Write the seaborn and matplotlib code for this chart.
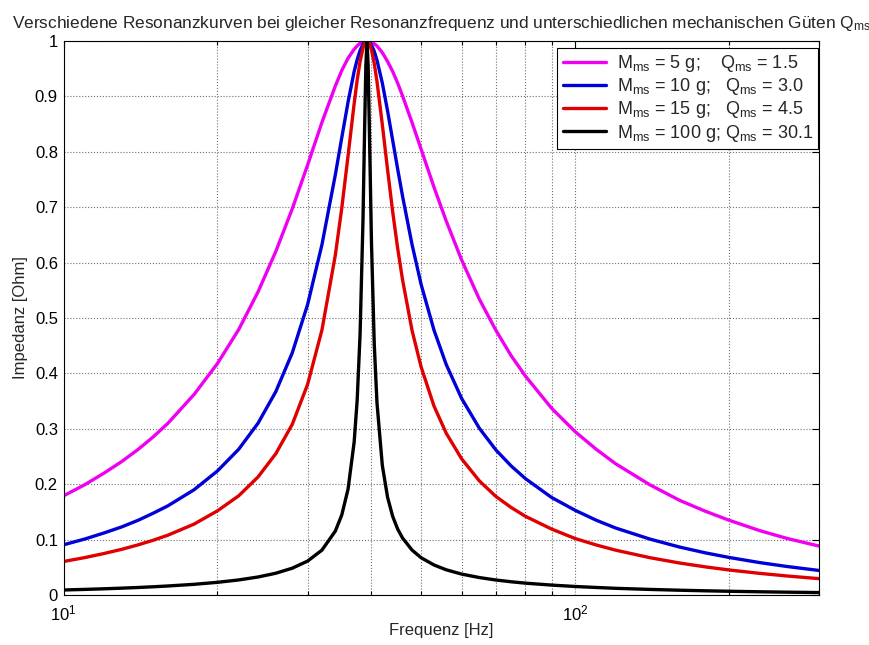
import matplotlib
matplotlib.use("Agg")
import matplotlib.pyplot as plt
from matplotlib.ticker import FixedLocator, LogLocator, NullFormatter
import numpy as np
import pandas as pd
import seaborn as sns

# Frequency grid [Hz]
freq = [10, 11, 12, 13, 14, 15, 16, 18, 20, 22, 24, 26, 28, 30, 32, 34, 35, 36,
        37, 37.5, 38, 38.5, 38.8, 39.0, 39.2, 39.4, 39.6, 40, 40.5, 41, 42, 43,
        44, 45, 46, 48, 50, 53, 56, 60, 65, 70, 75, 80, 90, 100, 110, 120, 140,
        160, 180, 200, 230, 260, 300]

# Normalised impedance for each moving mass
z_5g = [0.179, 0.199, 0.220, 0.241, 0.263, 0.286, 0.310, 0.362, 0.418, 0.479,
        0.547, 0.620, 0.697, 0.776, 0.853, 0.919, 0.947, 0.969, 0.985, 0.991,
        0.996, 0.9985, 0.9995, 0.9999, 1.0, 0.9999, 0.9995, 0.998, 0.995, 0.991,
        0.979, 0.963, 0.945, 0.924, 0.901, 0.853, 0.805, 0.736, 0.675, 0.605,
        0.534, 0.478, 0.432, 0.395, 0.337, 0.295, 0.263, 0.237, 0.199, 0.171,
        0.151, 0.135, 0.116, 0.102, 0.0883]
z_10g = [0.0906, 0.101, 0.112, 0.123, 0.135, 0.148, 0.161, 0.190, 0.224, 0.263,
         0.310, 0.367, 0.437, 0.524, 0.632, 0.759, 0.826, 0.890, 0.945, 0.966,
         0.983, 0.9942, 0.9981, 0.9995, 1.0, 0.9995, 0.9982, 0.9927, 0.9813, 0.9655,
         0.924, 0.874, 0.821, 0.769, 0.720, 0.633, 0.561, 0.478, 0.416, 0.355,
         0.301, 0.262, 0.233, 0.210, 0.176, 0.153, 0.135, 0.121, 0.101, 0.0866,
         0.0760, 0.0678, 0.0584, 0.0514, 0.0443]
z_15g = [0.0605, 0.0675, 0.0749, 0.0825, 0.0906, 0.0991, 0.108, 0.128, 0.152, 0.179,
         0.213, 0.255, 0.308, 0.380, 0.478, 0.614, 0.699, 0.793, 0.887, 0.929,
         0.963, 0.987, 0.9958, 0.9990, 1.0, 0.9990, 0.9959, 0.9839, 0.9594, 0.9272,
         0.849, 0.768, 0.692, 0.626, 0.569, 0.478, 0.412, 0.341, 0.292, 0.246,
         0.206, 0.178, 0.158, 0.142, 0.119, 0.102, 0.0903, 0.0810, 0.0674, 0.0578,
         0.0507, 0.0452, 0.0390, 0.0343, 0.0295]
z_100g = [0.00906, 0.01012, 0.01122, 0.01238, 0.0136, 0.0149, 0.0163, 0.0193, 0.0229, 0.0272,
          0.0325, 0.0393, 0.0484, 0.0612, 0.0810, 0.1155, 0.1448, 0.1913, 0.2762, 0.3508,
          0.4711, 0.6772, 0.851, 0.956, 1.0, 0.956, 0.853, 0.635, 0.4535, 0.347,
          0.2339, 0.1765, 0.1421, 0.1191, 0.1029, 0.0812, 0.0674, 0.0542, 0.0455, 0.0378,
          0.0315, 0.0271, 0.0239, 0.0214, 0.0179, 0.0154, 0.0136, 0.0121, 0.0101, 0.00866,
          0.00760, 0.00677, 0.00583, 0.00513, 0.00442]

labels = [r"M$_{ms}$ = 5 g;    Q$_{ms}$ = 1.5",
          r"M$_{ms}$ = 10 g;   Q$_{ms}$ = 3.0",
          r"M$_{ms}$ = 15 g;   Q$_{ms}$ = 4.5",
          r"M$_{ms}$ = 100 g; Q$_{ms}$ = 30.1"]
colors = ["#f000f0", "#0000d8", "#e00000", "#000000"]

sns.set_style("white")
plt.rcParams["font.family"] = ["Liberation Sans", "DejaVu Sans"]
plt.rcParams["mathtext.fontset"] = "custom"
plt.rcParams["mathtext.rm"] = "Liberation Sans"
plt.rcParams["mathtext.it"] = "Liberation Sans"
plt.rcParams["mathtext.default"] = "regular"

series = [z_5g, z_10g, z_15g, z_100g]
df = pd.concat([pd.DataFrame({"Frequenz": freq, "Impedanz": z, "Kurve": lab})
                for z, lab in zip(series, labels)], ignore_index=True)

fig = plt.figure(figsize=(8.7, 6.45), dpi=100)
ax = fig.add_axes([0.073, 0.0775, 0.8685, 0.859])
ax.set_xscale("log")

sns.lineplot(data=df, x="Frequenz", y="Impedanz", hue="Kurve", hue_order=labels,
             palette=colors, estimator=None, sort=False, linewidth=2.4,
             legend=False, ax=ax)

ax.set_xlim(10, 300)
ax.set_ylim(0, 1)
ax.yaxis.set_major_locator(FixedLocator(np.arange(0, 1.01, 0.1)))
ax.set_yticklabels(["0", "0.1", "0.2", "0.3", "0.4", "0.5", "0.6", "0.7", "0.8", "0.9", "1"])
ax.xaxis.set_major_locator(LogLocator(base=10))
ax.xaxis.set_minor_locator(LogLocator(base=10, subs=np.arange(2, 10)))
ax.xaxis.set_minor_formatter(NullFormatter())

ax.grid(True, which="major", axis="both", linestyle=":", color="#707070", linewidth=0.8)
ax.grid(True, which="minor", axis="x", linestyle=":", color="#707070", linewidth=0.8)
ax.tick_params(which="both", direction="in", top=True, right=True, labelsize=12,
               colors="black", width=0.8)
ax.tick_params(which="major", length=5)
ax.tick_params(axis="x", which="major", pad=6)
ax.tick_params(axis="y", which="major", pad=4)
ax.tick_params(which="minor", length=3, bottom=True)
for s in ax.spines.values():
    s.set_color("black")
    s.set_linewidth(0.8)

ax.set_xlabel("Frequenz [Hz]", fontsize=12, labelpad=0)
ax.set_ylabel("Impedanz [Ohm]", fontsize=12, labelpad=5)
ax.set_title("Verschiedene Resonanzkurven bei gleicher Resonanzfrequenz und "
             r"unterschiedlichen mechanischen Güten Q$_{ms}$", fontsize=12.4, pad=9)

handles = ax.get_lines()[:4]
leg = ax.legend(handles, labels, loc="upper right", bbox_to_anchor=(0.999, 0.988),
                fontsize=13, frameon=True, fancybox=False, framealpha=1,
                edgecolor="black", handlelength=2.4, handletextpad=0.6,
                borderpad=0.3, labelspacing=0.12, borderaxespad=0.0)
leg.get_frame().set_linewidth(0.8)

fig.savefig("out.png", dpi=100, facecolor="white")
